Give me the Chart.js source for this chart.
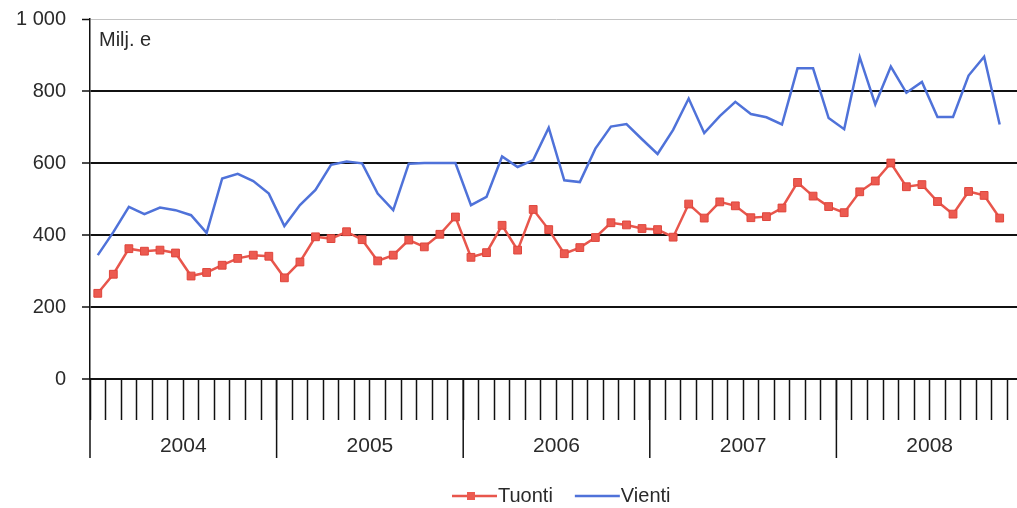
<!DOCTYPE html>
<html>
<head>
<meta charset="utf-8">
<title>Tuonti ja vienti 2004–2008</title>
<script src="https://cdn.jsdelivr.net/npm/chart.js@4"></script>
<style>
  html, body { margin: 0; padding: 0; background: #fff; overflow: hidden; }
  /* the plot runs on past the right edge, so December 2008 is cut off */
  #frame { position: relative; width: 1017px; height: 508px; overflow: hidden; }
  canvas { display: block; }
</style>
</head>
<body>
<div id="frame"><canvas id="chart" width="1024" height="508"></canvas></div>
<script>
// Monthly categories, January 2004 – December 2008
const years = ['2004', '2005', '2006', '2007', '2008'];
const monthNames = ['tammi', 'helmi', 'maalis', 'huhti', 'touko', 'kesä', 'heinä', 'elo', 'syys', 'loka', 'marras', 'joulu'];
const categories = years.flatMap(y => monthNames.map(m => m + ' ' + y));

// Imports (Tuonti), million euros, Jan 2004 – Nov 2008
const tuonti = [
  238, 291, 362, 355, 358, 350, 286, 296, 316, 335, 344, 341,
  281, 325, 395, 390, 409, 387, 328, 344, 386, 367, 402, 450,
  338, 351, 427, 358, 471, 415, 348, 365, 393, 434, 428, 418,
  415, 394, 486, 447, 492, 481, 448, 451, 475, 546, 508, 479,
  462, 520, 550, 600, 534, 540, 493, 458, 521, 510, 447
];

// Exports (Vienti), million euros, Jan 2004 – Nov 2008
const vienti = [
  344, 408, 478, 458, 476, 469, 455, 406, 557, 570, 550, 515,
  425, 483, 525, 595, 604, 599, 515, 469, 598, 600, 600, 600,
  483, 506, 618, 589, 608, 698, 552, 547, 640, 701, 708, 666,
  625, 692, 779, 683, 730, 770, 736, 727, 707, 863, 863, 725,
  694, 894, 763, 868, 795, 825, 728, 728, 843, 895, 707
];

const yMin = 0, yMax = 1000, yStep = 200;
const unitLabel = 'Milj. e';

const FONT = '"Liberation Sans", Arial, sans-serif';
const TEXT = '#2a2a2a';
const INK = '#111';

const fmtThousands = v => String(v).replace(/\B(?=(\d{3})+(?!\d))/g, ' ');

// Year separators below the axis, unit caption and the series legend
const decorations = {
  id: 'decorations',
  afterDraw(chart) {
    const { ctx, chartArea, scales: { x } } = chart;
    const slot = x.getPixelForValue(1) - x.getPixelForValue(0);
    ctx.save();
    ctx.strokeStyle = INK;
    ctx.lineWidth = 1.5;
    for (let i = 0; i <= years.length; i++) {
      const px = x.getPixelForValue(i * 12) - slot / 2;
      ctx.beginPath();
      ctx.moveTo(px, chartArea.bottom);
      ctx.lineTo(px, chartArea.bottom + 79);
      ctx.stroke();
    }

    ctx.fillStyle = TEXT;
    ctx.font = '20px ' + FONT;
    ctx.textBaseline = 'middle';
    ctx.textAlign = 'left';
    ctx.fillText(unitLabel, chartArea.left + 9, chartArea.top + 21);

    // legend: line sample (with marker when the series has one) + name
    ctx.font = '20px ' + FONT;
    let lx = 452;
    const ly = 496;
    chart.data.datasets.forEach(ds => {
      ctx.strokeStyle = ds.borderColor;
      ctx.lineWidth = ds.borderWidth;
      ctx.beginPath();
      ctx.moveTo(lx, ly);
      ctx.lineTo(lx + 45, ly);
      ctx.stroke();
      if (ds.pointRadius > 0) {
        ctx.fillStyle = ds.pointBackgroundColor;
        ctx.fillRect(lx + 15, ly - 4, 8, 8);
      }
      ctx.fillStyle = TEXT;
      ctx.fillText(ds.label, lx + 46, ly);
      lx += 46 + ctx.measureText(ds.label).width + 22;
    });
    ctx.restore();
  }
};

new Chart(document.getElementById('chart'), {
  type: 'line',
  data: {
    labels: categories,
    datasets: [
      {
        label: 'Tuonti',
        data: tuonti,
        borderColor: '#e8564c',
        backgroundColor: '#e8564c',
        borderWidth: 2.5,
        tension: 0,
        pointStyle: 'rect',
        pointRadius: 5.5,
        pointBackgroundColor: '#ec5a50',
        pointBorderColor: '#df463c',
        pointBorderWidth: 1
      },
      {
        label: 'Vienti',
        data: vienti,
        borderColor: '#4f72d9',
        backgroundColor: '#4f72d9',
        borderWidth: 2.5,
        tension: 0,
        pointRadius: 0
      }
    ]
  },
  options: {
    responsive: false,
    animation: false,
    layout: { autoPadding: false, padding: { top: 19, right: 1, bottom: 0, left: 0 } },
    plugins: {
      legend: { display: false },
      tooltip: { enabled: false }
    },
    scales: {
      x: {
        type: 'category',
        offset: true,
        afterFit: s => { s.height = 129; s.paddingLeft = 0; s.paddingRight = 0; },
        grid: {
          offset: true,
          drawOnChartArea: false,
          drawTicks: true,
          tickLength: 41,
          tickColor: INK,
          tickWidth: 1.5
        },
        border: { display: true, color: INK, width: 2 },
        ticks: {
          autoSkip: false,
          maxRotation: 0,
          minRotation: 0,
          padding: 14,
          labelOffset: -7.8,
          color: TEXT,
          font: { family: FONT, size: 21 },
          callback: (v, i) => (i % 12 === 6 ? years[Math.floor(i / 12)] : '')
        }
      },
      y: {
        min: yMin,
        max: yMax,
        afterFit: s => { s.width = 90; s.paddingTop = 0; s.paddingBottom = 0; },
        grid: {
          color: ctx => (ctx.tick && ctx.tick.value === yMax ? '#c4c4c4' : INK),
          lineWidth: ctx => (ctx.tick && ctx.tick.value === yMax ? 1 : 2),
          drawTicks: true,
          tickLength: 8,
          tickColor: INK,
          tickWidth: 1.5
        },
        border: { display: true, color: INK, width: 1.5 },
        ticks: {
          stepSize: yStep,
          padding: 16,
          color: TEXT,
          font: { family: FONT, size: 20 },
          callback: v => fmtThousands(v)
        }
      }
    }
  },
  plugins: [decorations]
});
</script>
</body>
</html>
